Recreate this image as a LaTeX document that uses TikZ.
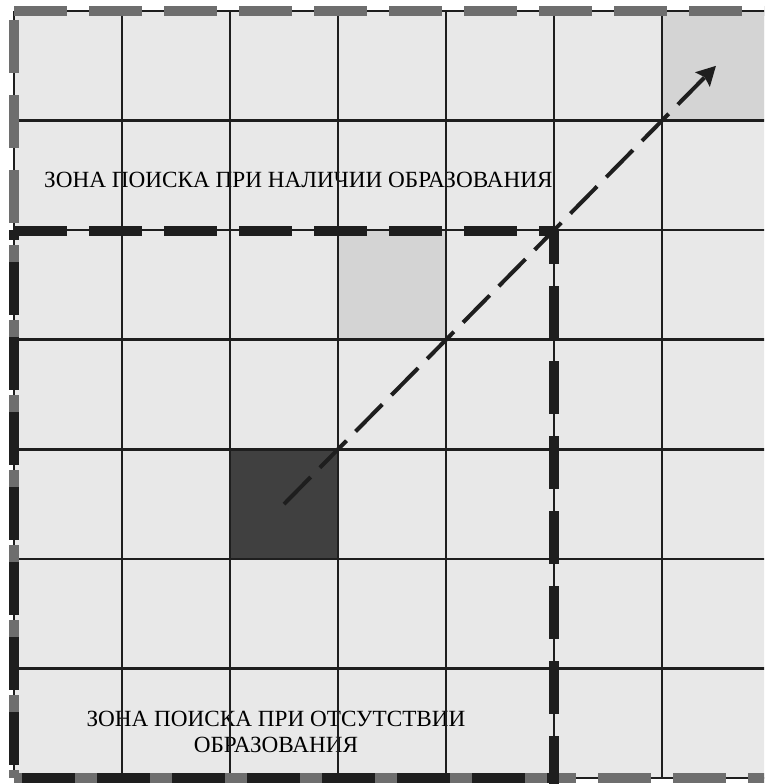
\documentclass[tikz,border=0pt]{standalone}
\usepackage{fontspec}
\setmainfont{Liberation Serif}
\usetikzlibrary{arrows.meta}
\definecolor{cellgray}{RGB}{232,232,232}
\definecolor{markgray}{RGB}{212,212,212}
\definecolor{lesion}{RGB}{64,64,64}
\definecolor{gridink}{RGB}{30,30,30}
\definecolor{outerdash}{RGB}{110,110,110}

\begin{document}
\begin{tikzpicture}[x=1pt,y=-1pt,
  gridline/.style={gridink,line width=2.5pt},
  zonedash/.style={line width=10pt,dash pattern=on 53pt off 22pt},
  zonelabel/.style={inner sep=0pt,font=\fontsize{23.2}{26}\selectfont}]
\useasboundingbox (0,0) rectangle (764,784);
\clip (0,0) rectangle (764,784);
\fill[cellgray] (14,11) rectangle (770,778);
\fill[markgray] (662,11) rectangle (770,120.6);
\fill[markgray] (338,230.1) rectangle (446,339.7);
\fill[lesion] (230,449.3) rectangle (338,558.9);
\node[zonelabel,anchor=base west] (present) at (44,187) {ЗОНА ПОИСКА ПРИ НАЛИЧИИ ОБРАЗОВАНИЯ};
\node[zonelabel,anchor=north,align=center] (absent) at (276,711) {ЗОНА ПОИСКА ПРИ ОТСУТСТВИИ\\ОБРАЗОВАНИЯ};
\foreach \i in {0,...,7} {
  \draw[gridline] (14+108*\i,11) -- (14+108*\i,778);
  \draw[gridline] (14,11+109.57*\i) -- (770,11+109.57*\i);
}
% outer zone
\draw[zonedash,outerdash] (14,11) -- (770,11);
\draw[zonedash,outerdash,dash phase=66pt] (13.5,11) -- (13.5,778);
\draw[zonedash,outerdash,dash phase=16pt] (14,778) -- (770,778);
% inner zone
\draw[zonedash,gridink] (14,230.5) -- (554,230.5);
\draw[zonedash,gridink,dash phase=43pt] (13.5,230) -- (13.5,778);
\draw[zonedash,gridink,dash phase=19pt] (554,230) -- (554,790);
\draw[zonedash,gridink,dash phase=67pt] (14,778) -- (554,778);
% search direction
\coordinate (start) at (284,504.1);
\coordinate (goal) at (716,65.8);
\draw[gridink,line width=4pt,dash pattern=on 38pt off 13pt,-{Stealth[length=19pt,width=20pt,inset=3pt]}] (start) -- (goal);
\end{tikzpicture}
\end{document}
